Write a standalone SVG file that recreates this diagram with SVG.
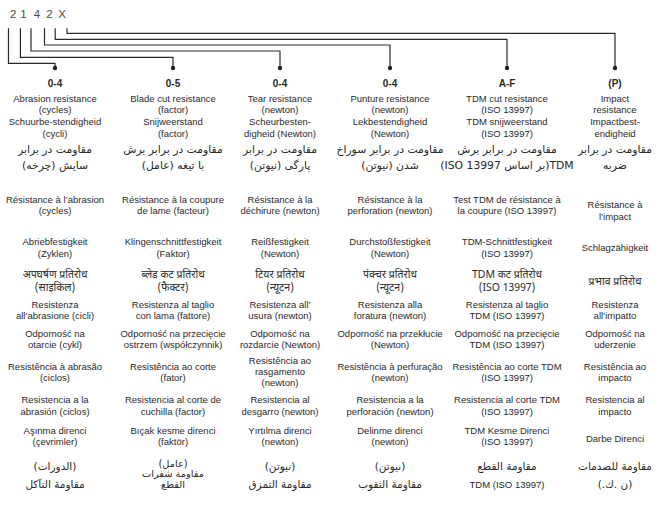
<svg xmlns="http://www.w3.org/2000/svg" width="665" height="506" viewBox="0 0 665 506">
<style>
text{font-family:"Liberation Sans",Arial,sans-serif;font-size:9.5px;fill:#2a2a2a;text-anchor:middle}
.h{font-weight:bold;font-size:10px}
.code{font-size:11.5px;fill:#4a4a4a}
.fa{font-family:"DejaVu Sans",sans-serif;font-size:10.8px;direction:rtl}
.ar{font-family:"DejaVu Sans",sans-serif;font-size:10.5px;direction:rtl}
.ar2{font-family:"DejaVu Sans",sans-serif;font-size:9.8px;direction:rtl}
.hi{font-family:"Noto Sans Devanagari","Noto Sans","DejaVu Sans",sans-serif;font-size:10.5px}
.c{fill:none;stroke:#2a2a2a;stroke-width:1.2}
.d{fill:#222}
</style>
<rect width="665" height="506" fill="#fff"/>
<g id="code">
<text class="code" x="13.3" y="18.3">2</text>
<text class="code" x="23.5" y="18.3">1</text>
<text class="code" x="37" y="18.3">4</text>
<text class="code" x="49.5" y="18.3">2</text>
<text class="code" x="62" y="18.3">X</text>
</g>
<g id="connectors">
<path class="c" d="M8.5,28.3V63.3H55V68"/>
<path class="c" d="M20.4,28.3V57.3H173V68"/>
<path class="c" d="M31,28.3V51H280V68"/>
<path class="c" d="M44.5,28.3V45H390V68"/>
<path class="c" d="M55.2,28.3V39.3H507V68"/>
<path class="c" d="M67,28.3V33.3H615V68"/>
<circle class="d" cx="55" cy="68" r="2.2"/>
<circle class="d" cx="173" cy="68" r="2.2"/>
<circle class="d" cx="280" cy="68" r="2.2"/>
<circle class="d" cx="390" cy="68" r="2.2"/>
<circle class="d" cx="507" cy="68" r="2.2"/>
<circle class="d" cx="615" cy="68" r="2.2"/>
</g>
<g id="col1">
<text class="h" x="55" y="87">0-4</text>
<text x="55" y="101.6">Abrasion resistance</text>
<text x="55" y="112.6">(cycles)</text>
<text x="55" y="125">Schuurbe-stendigheid</text>
<text x="55" y="136.5">(cycli)</text>
<text class="fa" x="55" y="153">مقاومت در برابر</text>
<text class="fa" x="55" y="169">سایش (چرخه)</text>
<text x="55" y="203.3">Résistance à l’abrasion</text>
<text x="55" y="214.3">(cycles)</text>
<text x="55" y="245">Abriebfestigkeit</text>
<text x="55" y="256.5">(Zyklen)</text>
<text class="hi" x="55" y="277.5">अपघर्षण प्रतिरोध</text>
<text class="hi" x="55" y="291">(साइकिल)</text>
<text x="55" y="307.5">Resistenza</text>
<text x="55" y="319">all’abrasione (cicli)</text>
<text x="55" y="336.5">Odporność na</text>
<text x="55" y="347.5">otarcie (cykl)</text>
<text x="55" y="369.5">Resistência à abrasão</text>
<text x="55" y="380.5">(ciclos)</text>
<text x="55" y="403">Resistencia a la</text>
<text x="55" y="414.5">abrasión (ciclos)</text>
<text x="55" y="433.5">Aşınma direnci</text>
<text x="55" y="444.5">(çevrimler)</text>
<text class="ar" x="55" y="470">(الدورات)</text>
<text class="ar" x="55" y="488">مقاومة التآكل</text>
</g>
<g id="col2">
<text class="h" x="173" y="87">0-5</text>
<text x="173" y="101.6">Blade cut resistance</text>
<text x="173" y="112.6">(factor)</text>
<text x="173" y="125">Snijweerstand</text>
<text x="173" y="136.5">(factor)</text>
<text class="fa" x="173" y="153">مقاومت در برابر برش</text>
<text class="fa" x="173" y="169">با تیغه (عامل)</text>
<text x="173" y="203.3">Résistance à la coupure</text>
<text x="173" y="214.3">de lame (facteur)</text>
<text x="173" y="245">Klingenschnittfestigkeit</text>
<text x="173" y="256.5">(Faktor)</text>
<text class="hi" x="173" y="277.5">ब्लेड कट प्रतिरोध</text>
<text class="hi" x="173" y="291">(फैक्टर)</text>
<text x="173" y="307.5">Resistenza al taglio</text>
<text x="173" y="319">con lama (fattore)</text>
<text x="173" y="336.5">Odporność na przecięcie</text>
<text x="173" y="347.5">ostrzem (współczynnik)</text>
<text x="173" y="369.5">Resistência ao corte</text>
<text x="173" y="380.5">(fator)</text>
<text x="173" y="403">Resistencia al corte de</text>
<text x="173" y="414.5">cuchilla (factor)</text>
<text x="173" y="433.5">Bıçak kesme direnci</text>
<text x="173" y="444.5">(faktör)</text>
<text class="ar2" x="173" y="466.5">(عامل)</text>
<text class="ar2" x="173" y="477">مقاومة شفرات</text>
<text class="ar2" x="173" y="487.5">القطع</text>
</g>
<g id="col3">
<text class="h" x="280" y="87">0-4</text>
<text x="280" y="101.6">Tear resistance</text>
<text x="280" y="112.6">(newton)</text>
<text x="280" y="125">Scheurbesten-</text>
<text x="280" y="136.5">digheid (Newton)</text>
<text class="fa" x="280" y="153">مقاومت در برابر</text>
<text class="fa" x="280" y="169">پارگی (نیوتن)</text>
<text x="280" y="203.3">Résistance à la</text>
<text x="280" y="214.3">déchirure (newton)</text>
<text x="280" y="245">Reißfestigkeit</text>
<text x="280" y="256.5">(Newton)</text>
<text class="hi" x="280" y="277.5">टियर प्रतिरोध</text>
<text class="hi" x="280" y="291">(न्यूटन)</text>
<text x="280" y="307.5">Resistenza all’</text>
<text x="280" y="319">usura (newton)</text>
<text x="280" y="336.5">Odporność na</text>
<text x="280" y="347.5">rozdarcie (Newton)</text>
<text x="280" y="363.5">Resistência ao</text>
<text x="280" y="374.5">rasgamento</text>
<text x="280" y="385.5">(newton)</text>
<text x="280" y="403">Resistencia al</text>
<text x="280" y="414.5">desgarro (newton)</text>
<text x="280" y="433.5">Yırtılma direnci</text>
<text x="280" y="444.5">(newton)</text>
<text class="ar" x="280" y="470">(نيوتن)</text>
<text class="ar" x="280" y="488">مقاومة التمزق</text>
</g>
<g id="col4">
<text class="h" x="390" y="87">0-4</text>
<text x="390" y="101.6">Punture resistance</text>
<text x="390" y="112.6">(newton)</text>
<text x="390" y="125">Lekbestendigheid</text>
<text x="390" y="136.5">(Newton)</text>
<text class="fa" x="390" y="153">مقاومت در برابر سوراخ</text>
<text class="fa" x="390" y="169">شدن (نیوتن)</text>
<text x="390" y="203.3">Résistance à la</text>
<text x="390" y="214.3">perforation (newton)</text>
<text x="390" y="245">Durchstoßfestigkeit</text>
<text x="390" y="256.5">(Newton)</text>
<text class="hi" x="390" y="277.5">पंक्चर प्रतिरोध</text>
<text class="hi" x="390" y="291">(न्यूटन)</text>
<text x="390" y="307.5">Resistenza alla</text>
<text x="390" y="319">foratura (newton)</text>
<text x="390" y="336.5">Odporność na przekłucie</text>
<text x="390" y="347.5">(Newton)</text>
<text x="390" y="369.5">Resistência à perfuração</text>
<text x="390" y="380.5">(newton)</text>
<text x="390" y="403">Resistencia a la</text>
<text x="390" y="414.5">perforación (newton)</text>
<text x="390" y="433.5">Delinme direnci</text>
<text x="390" y="444.5">(newton)</text>
<text class="ar" x="390" y="470">(نيوتن)</text>
<text class="ar" x="390" y="488">مقاومة الثقوب</text>
</g>
<g id="col5">
<text class="h" x="507" y="87">A-F</text>
<text x="507" y="101.6">TDM cut resistance</text>
<text x="507" y="112.6">(ISO 13997)</text>
<text x="507" y="125">TDM snijweerstand</text>
<text x="507" y="136.5">(ISO 13997)</text>
<text class="fa" x="507" y="153">مقاومت در برابر برش</text>
<text class="fa" x="507" y="169">TDM(بر اساس ISO 13997)</text>
<text x="507" y="203.3">Test TDM de résistance à</text>
<text x="507" y="214.3">la coupure (ISO 13997)</text>
<text x="507" y="245">TDM-Schnittfestigkeit</text>
<text x="507" y="256.5">(ISO 13997)</text>
<text class="hi" x="507" y="277.5">TDM कट प्रतिरोध</text>
<text class="hi" x="507" y="291">(ISO 13997)</text>
<text x="507" y="307.5">Resistenza al taglio</text>
<text x="507" y="319">TDM (ISO 13997)</text>
<text x="507" y="336.5">Odporność na przecięcie</text>
<text x="507" y="347.5">TDM (ISO 13997)</text>
<text x="507" y="369.5">Resistência ao corte TDM</text>
<text x="507" y="380.5">(ISO 13997)</text>
<text x="507" y="403">Resistencia al corte TDM</text>
<text x="507" y="414.5">(ISO 13997)</text>
<text x="507" y="433.5">TDM Kesme Direnci</text>
<text x="507" y="444.5">(ISO 13997)</text>
<text class="ar" x="507" y="470">مقاومة القطع</text>
<text x="507" y="488">TDM (ISO 13997)</text>
</g>
<g id="col6">
<text class="h" x="615" y="87">(P)</text>
<text x="615" y="101.6">Impact</text>
<text x="615" y="112.6">resistance</text>
<text x="615" y="125">Impactbest-</text>
<text x="615" y="136.5">endigheid</text>
<text class="fa" x="615" y="153">مقاومت در برابر</text>
<text class="fa" x="615" y="169">ضربه</text>
<text x="615" y="208">Résistance à</text>
<text x="615" y="219.5">l’impact</text>
<text x="615" y="251">Schlagzähigkeit</text>
<text class="hi" x="615" y="285">प्रभाव प्रतिरोध</text>
<text x="615" y="307.5">Resistenza</text>
<text x="615" y="319">all’impatto</text>
<text x="615" y="336.5">Odporność na</text>
<text x="615" y="347.5">uderzenie</text>
<text x="615" y="369.5">Resistência ao</text>
<text x="615" y="380.5">impacto</text>
<text x="615" y="403">Resistencia al</text>
<text x="615" y="414.5">impacto</text>
<text x="615" y="441.5">Darbe Direnci</text>
<text class="ar" x="615" y="470">مقاومة للصدمات</text>
<text class="ar" x="615" y="488">(ن .ك.)</text>
</g>
</svg>
